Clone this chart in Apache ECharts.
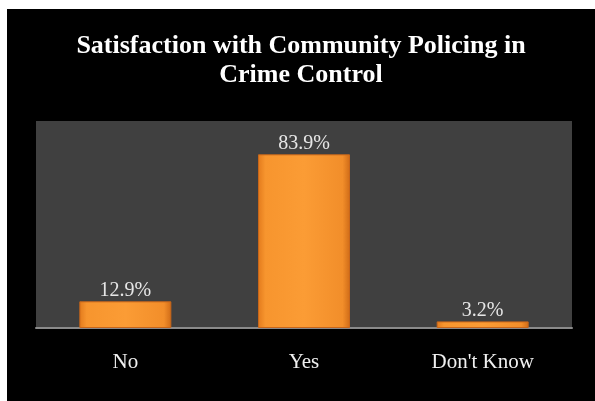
<!DOCTYPE html>
<html>
<head>
<meta charset="utf-8">
<script src="https://cdn.jsdelivr.net/npm/echarts@6/dist/echarts.min.js"></script>
<style>
html, body { margin: 0; padding: 0; background: #fff; }
#chart { position: absolute; left: 7px; top: 9px; width: 588px; height: 392px; background: #000; }
</style>
</head>
<body>
<div id="chart"></div>
<script>
var categories = ['No', 'Yes', "Don't Know"];
var values = [12.9, 83.9, 3.2];
var titleText = 'Satisfaction with Community Policing in\nCrime Control';

var chart = echarts.init(document.getElementById('chart'));

var barColor = {
	type: 'linear', x: 0, y: 0, x2: 1, y2: 0,
	colorStops: [
		{offset: 0, color: '#e27a1c'},
		{offset: 0.08, color: '#f7952e'},
		{offset: 0.5, color: '#fb9c35'},
		{offset: 0.92, color: '#f28e2a'},
		{offset: 1, color: '#cf6b17'}
	]
};

var option = {
	backgroundColor: '#000',
	title: {
		text: titleText,
		left: 'center',
		top: 18,
		textStyle: {
			color: '#fff',
			fontFamily: 'Liberation Serif',
			fontWeight: 'bold',
			fontSize: 26,
			lineHeight: 29
		}
	},
	grid: {
		left: 29,
		right: 23,
		top: 112,
		bottom: 73,
		show: true,
		backgroundColor: '#404040',
		borderWidth: 0
	},
	xAxis: {
		type: 'category',
		data: categories,
		axisLine: {lineStyle: {color: '#8a8a8a', width: 2}},
		axisTick: {show: false},
		axisLabel: {
			color: '#f0f0f0',
			fontFamily: 'Liberation Serif',
			fontSize: 21,
			margin: 24
		}
	},
	yAxis: {
		type: 'value',
		min: 0,
		max: 100,
		show: false,
		splitLine: {show: false}
	},
	series: [
		{
			type: 'bar',
			data: values,
			barWidth: 92,
			itemStyle: {
				color: barColor,
				borderColor: '#c8661a',
				borderWidth: 1
			},
			label: {
				show: true,
				position: 'top',
				distance: 1,
				color: '#e6e6e6',
				fontFamily: 'Liberation Serif',
				fontSize: 20,
				formatter: function(p){ return p.value.toFixed(1) + '%'; }
			}
		}
	]
};
chart.setOption(option);
</script>
</body>
</html>
